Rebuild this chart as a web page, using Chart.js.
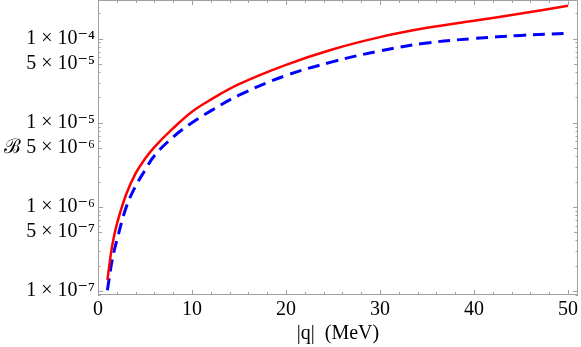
<!DOCTYPE html>
<html>
<head>
<meta charset="utf-8">
<script src="https://cdn.jsdelivr.net/npm/chart.js@4/dist/chart.umd.min.js"></script>
<style>
  html, body { margin: 0; padding: 0; background: #ffffff; }
  #wrap { width: 581px; height: 347px; }
</style>
</head>
<body>
<div id="wrap"><canvas id="c" width="581" height="347"></canvas></div>
<script>
// |q| in MeV
const qValues = [1, 1.5, 2, 3, 4, 5, 6, 8, 10, 12, 15, 20, 25, 30, 35, 40, 45, 50];
// branching ratio, solid red curve
const redB = [1.35e-7, 3.4e-7, 6.2e-7, 1.41e-6, 2.5e-6, 3.72e-6, 5.13e-6, 8.6e-6, 1.35e-5, 1.88e-5, 2.87e-5, 4.87e-5, 7.46e-5, 1.04e-4, 1.34e-4, 1.63e-4, 1.98e-4, 2.45e-4];
// branching ratio, dashed blue curve
const blueB = [1.02e-7, 2.3e-7, 3.97e-7, 9.9e-7, 1.76e-6, 2.72e-6, 4.05e-6, 6.76e-6, 1.0e-5, 1.38e-5, 2.12e-5, 3.64e-5, 5.31e-5, 7.13e-5, 8.85e-5, 1.0e-4, 1.09e-4, 1.15e-4];

const xTickValues = [0, 10, 20, 30, 40, 50];
const yTickValues = [1e-7, 5e-7, 1e-6, 5e-6, 1e-5, 5e-5, 1e-4];
const yTickLabels = ["1 × 10⁻⁷", "5 × 10⁻⁷", "1 × 10⁻⁶", "5 × 10⁻⁶", "1 × 10⁻⁵", "5 × 10⁻⁵", "1 × 10⁻⁴"];
const xTitle = "|q|  (MeV)";
const yTitle = "ℬ";

const FONT = "'Liberation Serif', 'DejaVu Serif', serif";
const FRAME = "#a0a0a0";

const framePlugin = {
  id: 'frameTicks',
  afterDraw(chart) {
    const ctx = chart.ctx;
    const a = chart.chartArea;
    const xs = chart.scales.x, ys = chart.scales.y;
    ctx.save();
    ctx.strokeStyle = FRAME;
    ctx.lineWidth = 1;
    ctx.beginPath();
    ctx.rect(a.left + 0.5, a.top + 0.5, a.right - a.left - 1, a.bottom - a.top - 1);
    ctx.stroke();
    ctx.beginPath();
    for (let v = 0; v <= xs.max + 1e-9; v += 2) {
      const px = Math.round(xs.getPixelForValue(v)) + 0.5;
      const len = (v % 10 === 0) ? 5 : 3;
      ctx.moveTo(px, a.bottom); ctx.lineTo(px, a.bottom - len);
      ctx.moveTo(px, a.top); ctx.lineTo(px, a.top + len);
    }
    for (let e = -8; e <= -3; e++) {
      for (let m = 1; m <= 9; m++) {
        const v = m * Math.pow(10, e);
        if (v < ys.min || v > ys.max) continue;
        const py = Math.round(ys.getPixelForValue(v)) + 0.5;
        const len = (m === 1) ? 5 : (m === 5 ? 4 : 2.5);
        ctx.moveTo(a.left, py); ctx.lineTo(a.left + len, py);
        ctx.moveTo(a.right, py); ctx.lineTo(a.right - len, py);
      }
    }
    ctx.stroke();
    ctx.fillStyle = '#000';
    ctx.font = "20px " + FONT;
    ctx.textAlign = 'center';
    ctx.textBaseline = 'middle';
    ctx.fillText(yTitle, 12, (a.top + a.bottom) / 2);
    ctx.restore();
  }
};

new Chart(document.getElementById('c'), {
  type: 'line',
  data: {
    datasets: [
      {
        label: 'solid',
        data: qValues.map((q, i) => ({ x: q, y: redB[i] })),
        borderColor: 'rgb(255,0,0)',
        borderWidth: 2.5,
        pointRadius: 0,
        fill: false,
        tension: 0.4
      },
      {
        label: 'dashed',
        data: qValues.map((q, i) => ({ x: q, y: blueB[i] })),
        borderColor: 'rgb(0,0,255)',
        borderWidth: 3,
        borderDash: [12, 7],
        pointRadius: 0,
        fill: false,
        tension: 0.4
      }
    ]
  },
  options: {
    responsive: false,
    devicePixelRatio: 1,
    animation: false,
    layout: { padding: { top: 0, right: 3, left: 0, bottom: 0 } },
    plugins: { legend: { display: false }, tooltip: { enabled: false } },
    scales: {
      x: {
        type: 'linear',
        min: 0,
        max: 51.06,
        grid: { display: false, drawTicks: false },
        border: { display: false },
        afterBuildTicks: (s) => { s.ticks = xTickValues.map(v => ({ value: v })); },
        afterFit: (s) => { s.height = 52; s.paddingLeft = 0; s.paddingRight = 0; },
        ticks: {
          color: '#000',
          padding: 3,
          maxRotation: 0,
          font: { family: FONT, size: 20 },
          callback: (v) => String(v)
        },
        title: {
          display: true,
          text: xTitle,
          color: '#000',
          font: { family: FONT, size: 20 },
          padding: { top: 0, bottom: 1 }
        }
      },
      y: {
        type: 'logarithmic',
        min: 8.96e-8,
        max: 2.87e-4,
        grid: { display: false, drawTicks: false },
        border: { display: false },
        afterBuildTicks: (s) => { s.ticks = yTickValues.map(v => ({ value: v })); },
        afterFit: (s) => { s.width = 98; s.paddingTop = 0; s.paddingBottom = 0; },
        ticks: {
          color: '#000',
          padding: 3,
          font: { family: FONT, size: 20 },
          callback: (v) => {
            const i = yTickValues.findIndex(t => Math.abs(t - v) / t < 1e-6);
            return i >= 0 ? yTickLabels[i] : '';
          }
        }
      }
    }
  },
  plugins: [framePlugin]
});
</script>
</body>
</html>
